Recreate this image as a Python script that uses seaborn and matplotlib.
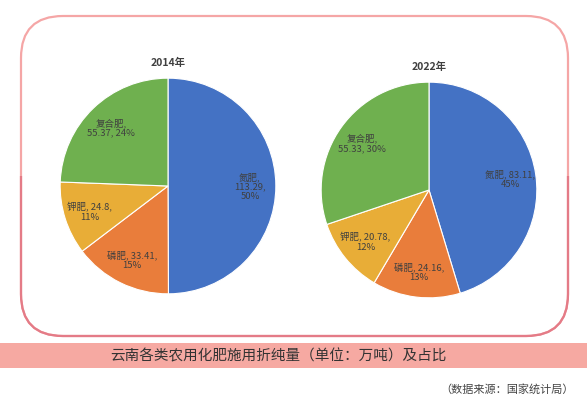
import matplotlib
matplotlib.use("Agg")
import matplotlib.pyplot as plt
import seaborn as sns
from matplotlib.patches import FancyBboxPatch, Rectangle

categories = ["氮肥", "磷肥", "钾肥", "复合肥"]
values_2014 = [113.29, 33.41, 24.8, 55.37]
values_2022 = [83.11, 24.16, 20.78, 55.33]
pct_2014 = [50, 15, 11, 24]
pct_2022 = [45, 13, 12, 30]
years = ["2014年", "2022年"]

# how each label wraps in the original
label_fmt_2014 = ["{c},\n{v},\n{p}%", "{c}, {v},\n{p}%", "{c}, {v},\n{p}%", "{c},\n{v}, {p}%"]
label_fmt_2022 = ["{c}, {v},\n{p}%", "{c}, {v},\n{p}%", "{c}, {v},\n{p}%", "{c},\n{v}, {p}%"]

colors = ["#4472c4", "#e97d3b", "#e8ad37", "#6fb04f"]

sns.set_theme(style="white")
plt.rcParams["font.family"] = ["Noto Sans CJK SC", "DejaVu Sans"]

W, H = 587, 402
fig = plt.figure(figsize=(W / 100, H / 100), dpi=100)

# background layer in pixel coordinates
bg = fig.add_axes([0, 0, 1, 1], zorder=0)
bg.set_xlim(0, W)
bg.set_ylim(H, 0)
bg.axis("off")

frame_light = FancyBboxPatch((21, 17), 547, 320, boxstyle="round,pad=0,rounding_size=42",
                             fill=False, edgecolor="#f5a6a6", linewidth=1.6)
bg.add_patch(frame_light)
frame_dark = FancyBboxPatch((21, 17), 547, 320, boxstyle="round,pad=0,rounding_size=42",
                            fill=False, edgecolor="#e47b87", linewidth=1.6)
bg.add_patch(frame_dark)
clip = Rectangle((0, 177), W, 200, transform=bg.transData, visible=False)
bg.add_patch(clip)
frame_dark.set_clip_path(clip)

bg.add_patch(Rectangle((0, 344), W, 25, facecolor="#f6a9a2", edgecolor="none"))
bg.text(278, 356.5, "云南各类农用化肥施用折纯量（单位：万吨）及占比", ha="center", va="center",
        fontsize=10.5, color="#333333")
bg.text(574, 389, "（数据来源：国家统计局）", ha="right", va="center",
        fontsize=8, color="#444444")


def draw_pie(ax, values, pcts, fmts, title):
    labels = [f.format(c=c, v=v, p=p) for f, c, v, p in zip(fmts, categories, values, pcts)]
    wedges, texts = ax.pie(values, labels=labels, colors=colors, startangle=90,
                           counterclock=False, labeldistance=0.76,
                           wedgeprops=dict(edgecolor="white", linewidth=0.8),
                           textprops=dict(fontsize=6.8, color="#404040"))
    for t in texts:
        t.set_ha("center")
        t.set_va("center")
        t.set_multialignment("center")
        t.set_linespacing(1.1)
    ax.set_xlim(-1.02, 1.02)
    ax.set_ylim(-1.02, 1.02)
    ax.set_aspect("equal")
    ax.set_title(title, fontsize=7.5, fontweight="bold", color="#404040", pad=8)


ax1 = fig.add_axes([58 / W, 1 - 297 / H, 220 / W, 220 / H], zorder=1)
draw_pie(ax1, values_2014, pct_2014, label_fmt_2014, years[0])

ax2 = fig.add_axes([319 / W, 1 - 301 / H, 220 / W, 220 / H], zorder=1)
draw_pie(ax2, values_2022, pct_2022, label_fmt_2022, years[1])

fig.savefig("out.png", dpi=100)
